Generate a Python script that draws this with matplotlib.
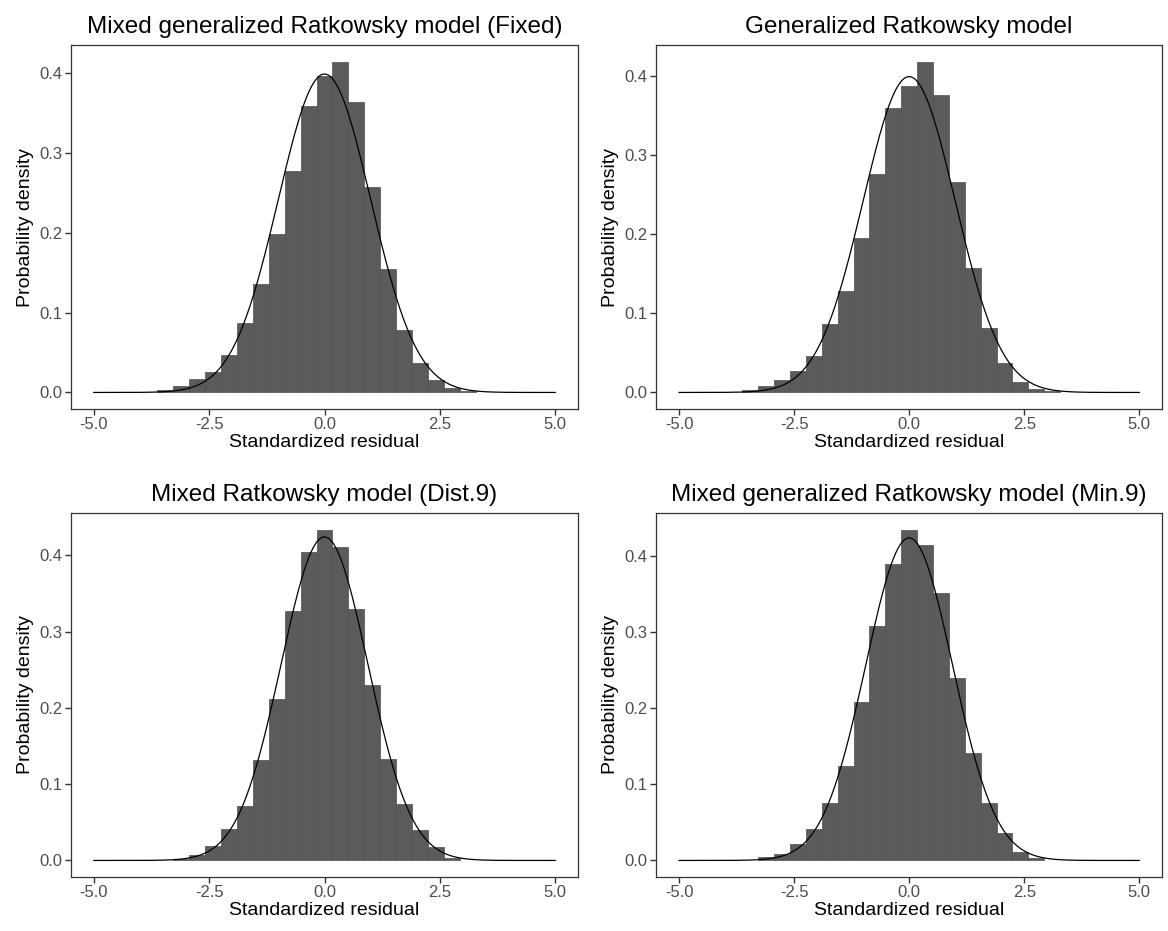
import numpy as np
import matplotlib
matplotlib.use("Agg")
import matplotlib.pyplot as plt

plt.rcParams['font.family'] = ['Liberation Sans', 'DejaVu Sans']

W, H = 1168, 931

titles = [
    "Mixed generalized Ratkowsky model (Fixed)",
    "Generalized Ratkowsky model",
    "Mixed Ratkowsky model (Dist.9)",
    "Mixed generalized Ratkowsky model (Min.9)",
]

bin_width = 0.3454

# Histogram densities, bins indexed by k (centre = k * bin_width)
bins_fixed = list(range(-10, 10))
dens_fixed = [0.0025, 0.0075, 0.0167, 0.026, 0.047, 0.0864, 0.1365, 0.1987,
              0.2777, 0.359, 0.397, 0.4146, 0.3633, 0.2572, 0.1545, 0.0785,
              0.0367, 0.015, 0.005, 0.0017]

bins_gen = list(range(-10, 10))
dens_gen = [0.003, 0.0076, 0.016, 0.0265, 0.0463, 0.0863, 0.128, 0.195,
            0.2758, 0.3587, 0.3865, 0.418, 0.376, 0.2657, 0.157, 0.0817,
            0.037, 0.013, 0.004, 0.0015]

bins_dist9 = list(range(-9, 9))
dens_dist9 = [0.002, 0.007, 0.019, 0.0406, 0.072, 0.131, 0.2118, 0.3266,
              0.4044, 0.4336, 0.4105, 0.330, 0.2293, 0.1323, 0.0734, 0.0393,
              0.017, 0.0026]

bins_min9 = list(range(-9, 9))
dens_min9 = [0.004, 0.009, 0.021, 0.0415, 0.075, 0.124, 0.2085, 0.3078,
             0.3895, 0.4345, 0.4144, 0.3506, 0.2396, 0.1408, 0.076, 0.0354,
             0.0105, 0.003]

# Normal reference curve parameters per panel
curve_mean = [0.0, 0.0, 0.0, 0.0]
curve_sd = [1.0, 1.0, 0.941, 0.942]

x_ticks = [-5.0, -2.5, 0.0, 2.5, 5.0]
y_ticks = [0.0, 0.1, 0.2, 0.3, 0.4]

panels = [
    (bins_fixed, dens_fixed),
    (bins_gen, dens_gen),
    (bins_dist9, dens_dist9),
    (bins_min9, dens_min9),
]

# panel boxes in pixels: left, right, top, bottom
boxes = [
    (70.7, 578.3, 45, 409),
    (656.0, 1162.3, 45, 409),
    (70.7, 578.3, 513, 877),
    (656.0, 1162.3, 513, 877),
]

fig = plt.figure(figsize=(W / 100, H / 100), dpi=100)
fig.patch.set_facecolor('white')

border = '#333333'
tick_col = '#4d4d4d'

for i, ((bins, dens), (l, r, t, b)) in enumerate(zip(panels, boxes)):
    ax = fig.add_axes([l / W, 1 - b / H, (r - l) / W, (b - t) / H])
    centres = np.array(bins) * bin_width
    ax.bar(centres, dens, width=bin_width, color='#5b5b5b',
           edgecolor='#4e4e4e', linewidth=0.5, align='center', zorder=2)
    xs = np.linspace(-5, 5, 400)
    mu, sd = curve_mean[i], curve_sd[i]
    ys = np.exp(-0.5 * ((xs - mu) / sd) ** 2) / (sd * np.sqrt(2 * np.pi))
    ax.plot(xs, ys, color='black', linewidth=0.9, zorder=3)

    ymax = max(max(dens), ys.max())
    ax.set_xlim(-5.5, 5.5)
    ax.set_ylim(-0.05 * ymax, 1.05 * ymax)
    ax.set_xticks(x_ticks)
    ax.set_xticklabels([f"{v:.1f}" for v in x_ticks])
    ax.set_yticks(y_ticks)
    ax.set_yticklabels([f"{v:.1f}" for v in y_ticks])
    ax.tick_params(axis='both', colors=border, labelcolor=tick_col,
                   labelsize=12, length=4, width=1.0, pad=2)
    for s in ax.spines.values():
        s.set_color(border)
        s.set_linewidth(0.9)
    ax.set_xlabel("Standardized residual", fontsize=14, labelpad=1)
    ax.set_ylabel("Probability density", fontsize=14, labelpad=4)
    ax.set_title(titles[i], fontsize=17.5, pad=9)
    ax.grid(False)

fig.savefig("out.png", dpi=100, facecolor='white')
